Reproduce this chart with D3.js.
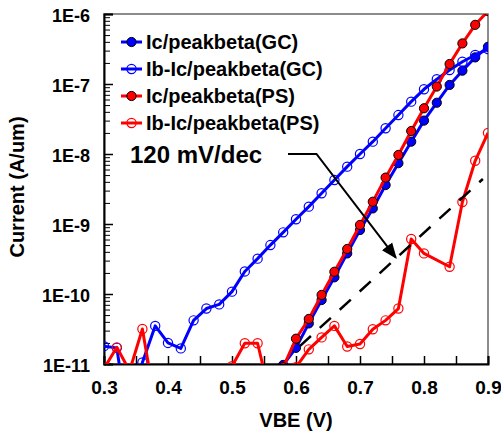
<!DOCTYPE html>
<html>
<head>
<meta charset="utf-8">
<script src="https://cdn.jsdelivr.net/npm/d3@7"></script>
<style>
  body { margin: 0; background: #fff; }
  text { font-family: "Liberation Sans", Arial, sans-serif; font-weight: bold; }
</style>
</head>
<body>
<script>
// VBE sweep, 20 mV steps
var vbe = [0.30, 0.32, 0.34, 0.36, 0.38, 0.40, 0.42, 0.44, 0.46, 0.48,
           0.50, 0.52, 0.54, 0.56, 0.58, 0.60, 0.62, 0.64, 0.66, 0.68,
           0.70, 0.72, 0.74, 0.76, 0.78, 0.80, 0.82, 0.84, 0.86, 0.88, 0.90];

// null = not shown on the plot
var icGC = [null, null, null, null, null, null, null, null, null, null,
            null, null, null, 3e-12, 0.97e-11, 1.7e-11, 3.8e-11, 8.2e-11, 1.73e-10, 3.8e-10,
            8.2e-10, 1.67e-9, 3.6e-9, 7.4e-9, 1.5e-8, 3.0e-8, 5.4e-8, 9.7e-8, 1.55e-7, 2.4e-7, 3.4e-7];

var ibGC = [1.8e-11, 1.7e-11, 1e-12, 1.05e-11, 3.5e-11, 2.0e-11, 1.67e-11, 4.2e-11, 6.2e-11, 7.1e-11,
            1.08e-10, 2.1e-10, 3.2e-10, 5.0e-10, 7.6e-10, 1.17e-9, 1.77e-9, 2.75e-9, 4.25e-9, 6.6e-9,
            1.0e-8, 1.5e-8, 2.33e-8, 3.6e-8, 5.6e-8, 8.4e-8, 1.17e-7, 1.58e-7, 2.08e-7, 2.6e-7, 3.16e-7];

var icPS = [null, null, null, null, null, null, null, null, null, null,
            null, null, null, null, 9e-12, 2.3e-11, 4.4e-11, 9.7e-11, 2.08e-10, 4.4e-10,
            9.7e-10, 2.08e-9, 4.6e-9, 9.7e-9, 2.13e-8, 4.5e-8, 9.2e-8, 1.93e-7, 3.8e-7, 7.0e-7, 1.1e-6];

var ibPS = [8.6e-12, 1.73e-11, 8e-12, 3.16e-11, 2.7e-12, null, null, null, null, null,
            9.3e-12, 1.98e-11, 1.98e-11, 3.3e-12, 3e-12, 9e-12, 1.62e-11, 2.4e-11, 3.5e-11, 1.78e-11,
            1.93e-11, 3.14e-11, 4.2e-11, 6.2e-11, 6.1e-10, 3.8e-10, null, 2.45e-10, 2.06e-9, 8.0e-9, 2.0e-8];

var seriesNames = ["Ic/peakbeta(GC)", "Ib-Ic/peakbeta(GC)", "Ic/peakbeta(PS)", "Ib-Ic/peakbeta(PS)"];

var xTicks = [0.3, 0.4, 0.5, 0.6, 0.7, 0.8, 0.9];
var xTickLabels = ["0.3", "0.4", "0.5", "0.6", "0.7", "0.8", "0.9"];
var xMinorTicks = [0.35, 0.45, 0.55, 0.65, 0.75, 0.85];
var yTicks = [1e-6, 1e-7, 1e-8, 1e-9, 1e-10, 1e-11];
var yTickLabels = ["1E-6", "1E-7", "1E-8", "1E-9", "1E-10", "1E-11"];

// 120 mV/dec guide line and the annotation
var slopeV = [0.606, 0.892];
var slopeI = [1.8e-11, 4.4e-9];
var slopeLabel = "120 mV/dec";
var arrowV = [0.5875, 0.632, 0.756];
var arrowI = [1e-8, 1e-8, 3.3e-10];

var width = 501, height = 437;
var margin = {left: 104, top: 14, right: 13, bottom: 73};
var plotW = width - margin.left - margin.right;
var plotH = height - margin.top - margin.bottom;

var svg = d3.select("body").append("svg")
  .attr("width", width)
  .attr("height", height);

var x = d3.scaleLinear().domain([0.3, 0.9]).range([0, plotW]);
var y = d3.scaleLog().domain([1e-11, 1e-6]).range([plotH, 0]);

var g = svg.append("g").attr("transform", "translate(" + margin.left + "," + margin.top + ")");

svg.append("defs").append("clipPath").attr("id", "plotclip")
  .append("rect").attr("width", plotW).attr("height", plotH);

// frame
g.append("rect")
  .attr("width", plotW).attr("height", plotH)
  .attr("fill", "none").attr("stroke", "#666").attr("stroke-width", 1.5);

// minor y ticks
var yMinor = [];
yTicks.slice(0, 5).forEach(function(d) {
  for (var k = 2; k <= 9; k++) yMinor.push(d / 10 * k);
});

g.append("g")
  .call(d3.axisLeft(y).tickValues(yMinor).tickSize(-6).tickFormat(""))
  .call(function(a) { a.select(".domain").remove(); });

g.append("g")
  .call(d3.axisLeft(y).tickValues(yTicks).tickSize(-9).tickPadding(14)
    .tickFormat(function(d, i) { return yTickLabels[i]; }))
  .call(function(a) {
    a.select(".domain").attr("stroke-width", 2);
    a.selectAll("line").attr("stroke-width", 1.5);
    a.selectAll("text").attr("font-size", 18).attr("dy", "0.42em")
      .attr("font-family", "Liberation Sans, Arial, sans-serif").attr("fill", "#000");
  });

g.append("g").attr("transform", "translate(0," + plotH + ")")
  .call(d3.axisBottom(x).tickValues(xMinorTicks).tickSize(-8).tickFormat(""))
  .call(function(a) {
    a.select(".domain").remove();
    a.selectAll("line").attr("stroke-width", 1.5);
  });

g.append("g").attr("transform", "translate(0," + plotH + ")")
  .call(d3.axisBottom(x).tickValues(xTicks).tickSize(-8).tickPadding(17)
    .tickFormat(function(d, i) { return xTickLabels[i]; }))
  .call(function(a) {
    a.select(".domain").attr("stroke-width", 2);
    a.selectAll("line").attr("stroke-width", 1.5);
    a.selectAll("text").attr("font-size", 19)
      .attr("font-family", "Liberation Sans, Arial, sans-serif").attr("fill", "#000");
  });

// axis titles
svg.append("text")
  .attr("x", margin.left + plotW / 2).attr("y", 427)
  .attr("text-anchor", "middle").attr("font-size", 20)
  .text("VBE (V)");

svg.append("text")
  .attr("transform", "translate(24,187) rotate(-90)")
  .attr("text-anchor", "middle").attr("font-size", 20)
  .text("Current (A/um)");

// data
var plot = g.append("g").attr("clip-path", "url(#plotclip)");

var line = d3.line().x(function(d) { return x(d.v); }).y(function(d) { return y(d.i); });

var series = [
  {values: icGC, color: "#0000ff", filled: true},
  {values: ibGC, color: "#0000ff", filled: false},
  {values: icPS, color: "#ff0000", filled: true},
  {values: ibPS, color: "#ff0000", filled: false}
];

series.forEach(function(s) {
  var pts = vbe.map(function(v, k) { return {v: v, i: s.values[k]}; })
    .filter(function(d) { return d.i != null; });
  var sg = plot.append("g");
  sg.append("path").datum(pts)
    .attr("d", line)
    .attr("fill", "none").attr("stroke", s.color).attr("stroke-width", 3)
    .attr("stroke-linejoin", "round");
  sg.selectAll("circle").data(pts).enter().append("circle")
    .attr("cx", function(d) { return x(d.v); })
    .attr("cy", function(d) { return y(d.i); })
    .attr("r", 4.6)
    .attr("fill", s.filled ? s.color : "none")
    .attr("stroke", s.filled ? "#000" : s.color)
    .attr("stroke-width", s.filled ? 1 : 1.2);
});

// 120 mV/dec dashed guide
plot.append("path")
  .datum(slopeV.map(function(v, k) { return {v: v, i: slopeI[k]}; }))
  .attr("d", line)
  .attr("fill", "none").attr("stroke", "#000").attr("stroke-width", 2.5)
  .attr("stroke-dasharray", "15,12");

// annotation
svg.select("defs").append("marker")
  .attr("id", "arrowhead")
  .attr("viewBox", "0 0 10 10").attr("refX", 9).attr("refY", 5)
  .attr("markerWidth", 16).attr("markerHeight", 16)
  .attr("markerUnits", "userSpaceOnUse")
  .attr("orient", "auto")
  .append("path").attr("d", "M0,1 L10,5 L0,9 Z").attr("fill", "#000");

g.append("path")
  .datum(arrowV.map(function(v, k) { return {v: v, i: arrowI[k]}; }))
  .attr("d", line)
  .attr("fill", "none").attr("stroke", "#000").attr("stroke-width", 2)
  .attr("marker-end", "url(#arrowhead)");

g.append("text")
  .attr("x", x(0.3) + 26).attr("y", y(1e-8) + 9)
  .attr("font-size", 24)
  .text(slopeLabel);

// legend
var legendColors = ["#0000ff", "#0000ff", "#ff0000", "#ff0000"];
var legendFilled = [true, false, true, false];
var legend = svg.append("g").attr("transform", "translate(121,42)");
seriesNames.forEach(function(name, k) {
  var row = legend.append("g").attr("transform", "translate(0," + (k * 27) + ")");
  row.append("line").attr("x1", 0).attr("x2", 21)
    .attr("stroke", legendColors[k]).attr("stroke-width", 3);
  row.append("circle").attr("cx", 10.5).attr("r", 4.6)
    .attr("fill", legendFilled[k] ? legendColors[k] : "none")
    .attr("stroke", legendFilled[k] ? "#000" : legendColors[k])
    .attr("stroke-width", legendFilled[k] ? 1 : 1.2);
  row.append("text").attr("x", 25).attr("y", 7).attr("font-size", 20).text(name);
});
</script>
</body>
</html>
